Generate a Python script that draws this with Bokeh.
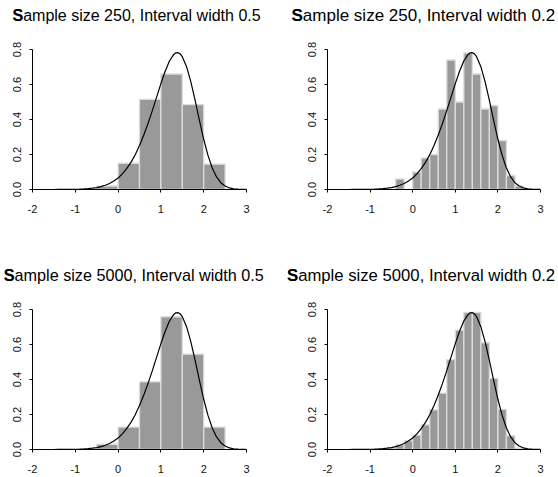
from bokeh.plotting import figure
from bokeh.layouts import column, row
from bokeh.models import Range1d, FixedTicker, PrintfTickFormatter
from bokeh.core.properties import value
from bokeh.embed import file_html
from bokeh.resources import INLINE

# ---- data ----
titles = ["Sample size 250, Interval width 0.5", "Sample size 250, Interval width 0.2",
          "Sample size 5000, Interval width 0.5", "Sample size 5000, Interval width 0.2"]

widths = [0.5, 0.2, 0.5, 0.2]

left_250_05 = [-0.5, 0.0, 0.5, 1.0, 1.5, 2.0]
dens_250_05 = [0.02, 0.15, 0.515, 0.66, 0.485, 0.145]

left_250_02 = [-0.4, -0.2, 0.0, 0.2, 0.4, 0.6, 0.8, 1.0, 1.2, 1.4, 1.6, 1.8, 2.0, 2.2, 2.4]
dens_250_02 = [0.06, 0.0, 0.10, 0.18, 0.20, 0.46, 0.74, 0.50, 0.78, 0.66, 0.46, 0.48, 0.28, 0.08, 0.02]

left_5000_05 = [-0.5, 0.0, 0.5, 1.0, 1.5, 2.0]
dens_5000_05 = [0.03, 0.128, 0.387, 0.758, 0.545, 0.128]

left_5000_02 = [-0.6, -0.4, -0.2, 0.0, 0.2, 0.4, 0.6, 0.8, 1.0, 1.2, 1.4, 1.6, 1.8, 2.0, 2.2, 2.4]
dens_5000_02 = [0.01, 0.027, 0.05, 0.082, 0.141, 0.227, 0.322, 0.514, 0.682, 0.783, 0.783,
                0.61, 0.406, 0.229, 0.078, 0.008]

curve_x = [-2.0, -1.9, -1.8, -1.7, -1.6, -1.5, -1.4, -1.3, -1.2, -1.1, -1.0, -0.9, -0.8, -0.7,
           -0.6, -0.5, -0.4, -0.3, -0.2, -0.1, 0.0, 0.1, 0.2, 0.3, 0.4, 0.5, 0.6, 0.7, 0.8, 0.9,
           1.0, 1.1, 1.2, 1.3, 1.35, 1.4, 1.45, 1.5, 1.6, 1.7, 1.8, 1.9, 2.0, 2.1, 2.2, 2.3, 2.4,
           2.5, 2.6, 2.7, 2.8, 2.9, 3.0]
curve_y = [0.0, 0.0, 0.0, 0.0, 0.0001, 0.0001, 0.0002, 0.0003, 0.0005, 0.0008, 0.0012, 0.002,
           0.0032, 0.0049, 0.0075, 0.0112, 0.0166, 0.024, 0.0343, 0.048, 0.066, 0.089, 0.119,
           0.155, 0.199, 0.251, 0.311, 0.378, 0.451, 0.528, 0.605, 0.676, 0.734, 0.772, 0.781,
           0.782, 0.775, 0.759, 0.702, 0.615, 0.509, 0.395, 0.287, 0.195, 0.123, 0.072, 0.039,
           0.020, 0.009, 0.004, 0.0016, 0.0006, 0.0002]

x_ticks = [-2, -1, 0, 1, 2, 3]
y_ticks = [0.0, 0.2, 0.4, 0.6, 0.8]

lefts = [left_250_05, left_250_02, left_5000_05, left_5000_02]
dens = [dens_250_05, dens_250_02, dens_5000_05, dens_5000_02]

FONT = "Liberation Sans"


def head(i, W, H, tx, ty, tfs):
    # small blank strip that carries the panel title (first letter drawn bold on top)
    h = figure(frame_width=W, frame_height=H, min_border=0, min_border_left=0,
               min_border_right=0, min_border_top=0, min_border_bottom=0,
               x_range=Range1d(0, W), y_range=Range1d(0, H), x_axis_type=None,
               y_axis_type=None, output_backend="svg", toolbar_location=None,
               background_fill_color="white", border_fill_color="white")
    h.frame_align = False
    h.outline_line_color = None
    h.xgrid.visible = False
    h.ygrid.visible = False
    h.text(x=[tx], y=[ty], text=[titles[i]], text_font=value(FONT), text_font_size=value(tfs),
           text_color="black", text_baseline="alphabetic", text_align="left")
    h.text(x=[tx], y=[ty], text=[titles[i][0]], text_font=value(FONT), text_font_size=value(tfs),
           text_font_style="bold", text_color="black", text_baseline="alphabetic",
           text_align="left")
    return h


def panel(i, fw, bl, br, bb):
    p = figure(frame_width=fw, frame_height=140, min_border_left=bl, min_border_right=br,
               min_border_top=8, min_border_bottom=bb, x_range=Range1d(-2, 3),
               y_range=Range1d(0, 0.8), output_backend="svg", toolbar_location=None,
               background_fill_color="white", border_fill_color="white")
    p.outline_line_color = None
    p.xgrid.visible = False
    p.ygrid.visible = False
    w = widths[i]
    L = lefts[i]
    p.quad(left=L, right=[v + w for v in L], bottom=0, top=dens[i],
           fill_color="#999999", line_color="#dcdcdc", line_width=1.3)
    p.line(curve_x, curve_y, line_color="black", line_width=1.2)
    p.xaxis.ticker = FixedTicker(ticks=x_ticks)
    p.yaxis.ticker = FixedTicker(ticks=y_ticks)
    p.xaxis.formatter = PrintfTickFormatter(format="%d")
    p.yaxis.formatter = PrintfTickFormatter(format="%.1f")
    p.yaxis.major_label_orientation = "vertical"
    for ax in (p.xaxis, p.yaxis):
        ax.axis_line_color = "black"
        ax.axis_line_width = 1
        ax.major_tick_line_color = "black"
        ax.major_tick_out = 3
        ax.major_tick_in = 0
        ax.minor_tick_line_color = None
        ax.major_label_text_font = FONT
        ax.major_label_text_font_size = "11px"
        ax.major_label_text_color = "#111111"
    p.xaxis.major_label_standoff = 12
    p.yaxis.major_label_standoff = 9
    return p


LW = 32 + 214 + 40
RW = 41 + 213 + 17

h1 = head(0, LW, 41, 12, 26.3, "16px")
h2 = head(1, RW, 41, 5, 26.3, "17px")
h3 = head(2, LW, 34, 3.3, 26.3, "16.2px")
h4 = head(3, RW, 34, 0.5, 26.3, "16.7px")

p1 = panel(0, 214, 32, 40, 78)
p2 = panel(1, 213, 41, 17, 78)
p3 = panel(2, 214, 32, 40, 27)
p4 = panel(3, 213, 41, 17, 27)

layout = column(row(column(h1, p1), column(h2, p2)),
                row(column(h3, p3), column(h4, p4)))
open("out.html", "w").write(file_html(layout, INLINE))
